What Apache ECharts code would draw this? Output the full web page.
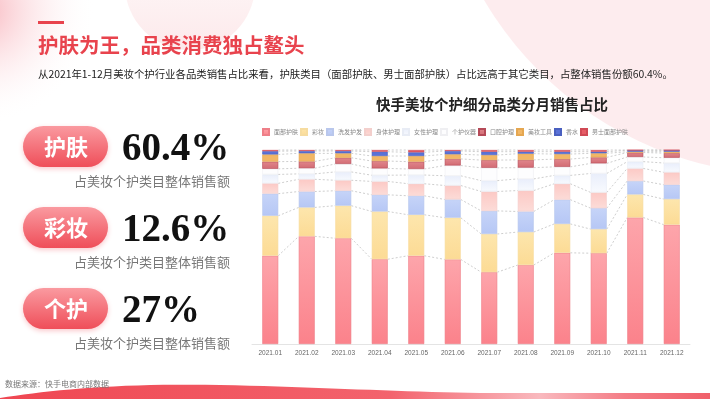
<!DOCTYPE html>
<html>
<head>
<meta charset="utf-8">
<script src="https://cdn.jsdelivr.net/npm/echarts@6/dist/echarts.min.js"></script>
<style>
  html, body { margin: 0; padding: 0; background: #fff; }
  #page { width: 710px; height: 399px; }
</style>
</head>
<body>
<div id="page"></div>
<script>
const months = ['2021.01', '2021.02', '2021.03', '2021.04', '2021.05', '2021.06', '2021.07', '2021.08', '2021.09', '2021.10', '2021.11', '2021.12']
const categories = ['面部护肤', '彩妆', '洗发护发', '身体护理', '女性护理', '个护仪器', '口腔护理', '美妆工具', '香水', '男士面部护肤']

// 每月各品类销售占比 (%)
const faceCare = [45.5, 55.5, 54.5, 43.7, 45.5, 43.6, 37.0, 40.7, 47.0, 46.8, 65.2, 61.5]
const makeup = [20.6, 14.9, 16.8, 24.6, 21.1, 21.5, 19.7, 17.0, 14.9, 12.4, 11.9, 13.2]
const hairCare = [11.4, 8.2, 7.7, 8.6, 9.8, 9.4, 11.9, 10.6, 12.5, 10.8, 6.9, 7.4]
const bodyCare = [5.3, 6.3, 5.4, 6.9, 6.2, 7.2, 10.0, 10.8, 8.2, 8.1, 6.5, 6.4]
const femaleCare = [4.6, 2.8, 4.3, 3.2, 4.5, 5.0, 5.6, 6.0, 4.3, 9.8, 3.5, 4.8]
const devices = [2.9, 2.9, 4.1, 3.5, 3.1, 5.3, 6.6, 5.8, 4.4, 5.2, 2.4, 2.7]
const oralCare = [3.7, 3.5, 3.2, 3.8, 3.8, 3.4, 4.0, 4.0, 4.0, 3.1, 2.3, 2.4]
const beautyTools = [3.7, 4.2, 2.3, 2.6, 2.9, 2.4, 2.6, 3.2, 2.6, 2.1, 0.4, 0.7]
const perfume = [1.7, 1.2, 1.2, 2.2, 1.9, 1.7, 1.7, 1.0, 1.2, 0.8, 0.8, 0.8]
const menFaceCare = [0.6, 0.5, 0.5, 0.9, 1.2, 0.5, 0.9, 0.9, 0.9, 0.9, 0.1, 0.1]

// 左侧汇总
const summaryNames = ['护肤', '彩妆', '个护']
const summaryValues = ['60.4%', '12.6%', '27%']

const seriesData = [faceCare, makeup, hairCare, bodyCare, femaleCare, devices, oralCare, beautyTools, perfume, menFaceCare]

const vGrad = (c1, c2) => ({
  type: 'linear', x: 0, y: 0, x2: 0, y2: 1,
  colorStops: [{ offset: 0, color: c1 }, { offset: 1, color: c2 }],
})
const barStyles = [
  { color: vGrad('#fda5ab', '#fb828b'), borderColor: '#ee7f88' },
  { color: vGrad('#fde6ad', '#fcdb95'), borderColor: '#f6dca0' },
  { color: vGrad('#c6d4f8', '#b6c7f5'), borderColor: '#b9c7ec' },
  { color: vGrad('#fcc9c5', '#fcdcd8'), borderColor: '#f3cfcc' },
  { color: vGrad('#e9eefb', '#f8fafe'), borderColor: '#e8ecf5' },
  { color: '#fdfdfe', borderColor: '#efeff2' },
  { color: vGrad('#e0868c', '#d26b73'), borderColor: '#b54a58' },
  { color: '#f2b766', borderColor: '#e5a751' },
  { color: '#5a72d8', borderColor: '#4a60c0' },
  { color: '#e65c66', borderColor: '#d04a55' },
]

// 各段累计顶部，用于绘制系列连线
const tops = []
seriesData.forEach((arr, k) => {
  tops.push(arr.map((v, i) => (k ? tops[k - 1][i] : 0) + v))
})

const BAR_W = 16
const cjk = '"Noto Sans CJK SC", sans-serif'

function renderLinks(params, api) {
  const i = api.value(0)
  const children = []
  for (let k = 0; k < tops.length; k++) {
    const a = api.coord([i, tops[k][i]])
    const b = api.coord([i + 1, tops[k][i + 1]])
    children.push({
      type: 'line',
      shape: { x1: a[0] + BAR_W / 2, y1: a[1], x2: b[0] - BAR_W / 2, y2: b[1] },
      style: { stroke: '#c2c2c2', lineWidth: 0.8, lineDash: [2, 2] },
    })
  }
  return { type: 'group', children }
}

// 底部波浪（装饰）
function wavePoints() {
  const segs = [
    [[0, 398], [50, 390], [120, 383], [220, 385]],
    [[220, 385], [320, 387], [400, 392], [480, 393]],
  ]
  const pts = []
  segs.forEach(s => {
    for (let t = 0; t <= 1.0001; t += 0.05) {
      const u = 1 - t
      pts.push([
        u * u * u * s[0][0] + 3 * u * u * t * s[1][0] + 3 * u * t * t * s[2][0] + t * t * t * s[3][0],
        u * u * u * s[0][1] + 3 * u * u * t * s[1][1] + 3 * u * t * t * s[2][1] + t * t * t * s[3][1],
      ])
    }
  })
  pts.push([710, 393], [710, 399], [0, 399])
  return pts
}

const chart = echarts.init(document.getElementById('page'))

const graphics = [
  // 背景装饰
  {
    type: 'circle', z: 0, shape: { cx: -20, cy: 10, r: 115 },
    style: { fill: { type: 'radial', x: 0.5, y: 0.5, r: 0.5, colorStops: [{ offset: 0, color: '#f8b4bc' }, { offset: 1, color: 'rgba(255,255,255,0)' }] } },
  },
  {
    type: 'circle', z: 0, shape: { cx: 190, cy: -15, r: 65 },
    style: { fill: vGrad('rgba(253,240,241,0.2)', 'rgba(252,230,232,0.9)') },
  },
  {
    type: 'circle', z: 0, shape: { cx: 790, cy: -180, r: 355 },
    style: { fill: { type: 'linear', x: 0, y: 0, x2: 1, y2: 0, colorStops: [{ offset: 0.45, color: '#fdecee' }, { offset: 1, color: '#f6b3bc' }] } },
  },
  {
    type: 'polygon', z: 0,
    shape: { points: wavePoints() },
    style: { fill: { type: 'linear', x: 0, y: 0, x2: 1, y2: 0, colorStops: [{ offset: 0, color: '#ef4752' }, { offset: 0.55, color: '#f3636d' }, { offset: 0.76, color: '#f9b9be' }, { offset: 0.88, color: '#f47d86' }, { offset: 1, color: '#f0606a' }] } },
  },
  // 标题区
  { type: 'rect', shape: { x: 38, y: 21, width: 26, height: 3 }, style: { fill: '#e8434d' } },
  { type: 'text', style: { text: '护肤为王，品类消费独占鳌头', x: 38, y: 45, fill: '#e8434d', font: 'bold 20.5px ' + cjk, verticalAlign: 'middle' } },
  { type: 'text', style: { text: '从2021年1-12月美妆个护行业各品类销售占比来看，护肤类目（面部护肤、男士面部护肤）占比远高于其它类目，占整体销售份额60.4%。', x: 38, y: 74, fill: '#222', font: '10.4px ' + cjk, verticalAlign: 'middle' } },
  { type: 'text', style: { text: '快手美妆个护细分品类分月销售占比', x: 492, y: 104, fill: '#222', font: 'bold 14.5px ' + cjk, align: 'center', verticalAlign: 'middle' } },
  { type: 'text', style: { text: '数据来源：快手电商内部数据', x: 5, y: 384, fill: '#777', font: '8px ' + cjk, verticalAlign: 'middle' } },
]

const pillTops = [126, 207, 288]
summaryNames.forEach((name, idx) => {
  const y0 = pillTops[idx]
  graphics.push({
    type: 'rect', shape: { x: 23, y: y0, width: 85, height: 41, r: 20.5 },
    style: { fill: vGrad('#fa9aa0', '#ef4e59'), shadowBlur: 5, shadowOffsetY: 2, shadowColor: 'rgba(239,78,89,0.3)' },
  })
  graphics.push({ type: 'text', style: { text: name, x: 66, y: y0 + 20.5, fill: '#fff', font: 'bold 22px ' + cjk, align: 'center', verticalAlign: 'middle' } })
  graphics.push({ type: 'text', style: { text: summaryValues[idx], x: 122, y: y0 + 24, fill: '#111', font: 'bold 39px "Liberation Serif", serif', verticalAlign: 'middle' } })
  graphics.push({ type: 'text', style: { text: '占美妆个护类目整体销售额', x: 74, y: y0 + 55, fill: '#777', font: '13px ' + cjk, verticalAlign: 'middle' } })
})

const option = {
  backgroundColor: '#fff',
  animation: false,
  graphic: graphics,
  legend: {
    top: 123,
    left: 257,
    itemWidth: 6,
    itemHeight: 6,
    itemGap: 2,
    icon: 'rect',
    textStyle: { color: '#888', fontSize: 6, fontFamily: cjk },
    data: categories,
  },
  grid: { left: 252, right: 20, top: 150, bottom: 55 },
  xAxis: {
    type: 'category',
    data: months,
    axisLine: { lineStyle: { color: '#e4e4e4' } },
    axisTick: { show: false },
    axisLabel: { color: '#666', fontSize: 6.5, margin: 6 },
  },
  yAxis: { type: 'value', min: 0, max: 100, show: false },
  series: [
    ...categories.map((name, k) => ({
      name,
      type: 'bar',
      stack: 'total',
      barWidth: BAR_W,
      data: seriesData[k],
      itemStyle: { ...barStyles[k], borderWidth: 0.6 },
    })),
    {
      type: 'custom',
      silent: true,
      z: 1,
      renderItem: renderLinks,
      data: months.slice(0, -1).map((m, i) => [i, 0]),
    },
  ],
}

chart.setOption(option)
</script>
</body>
</html>
